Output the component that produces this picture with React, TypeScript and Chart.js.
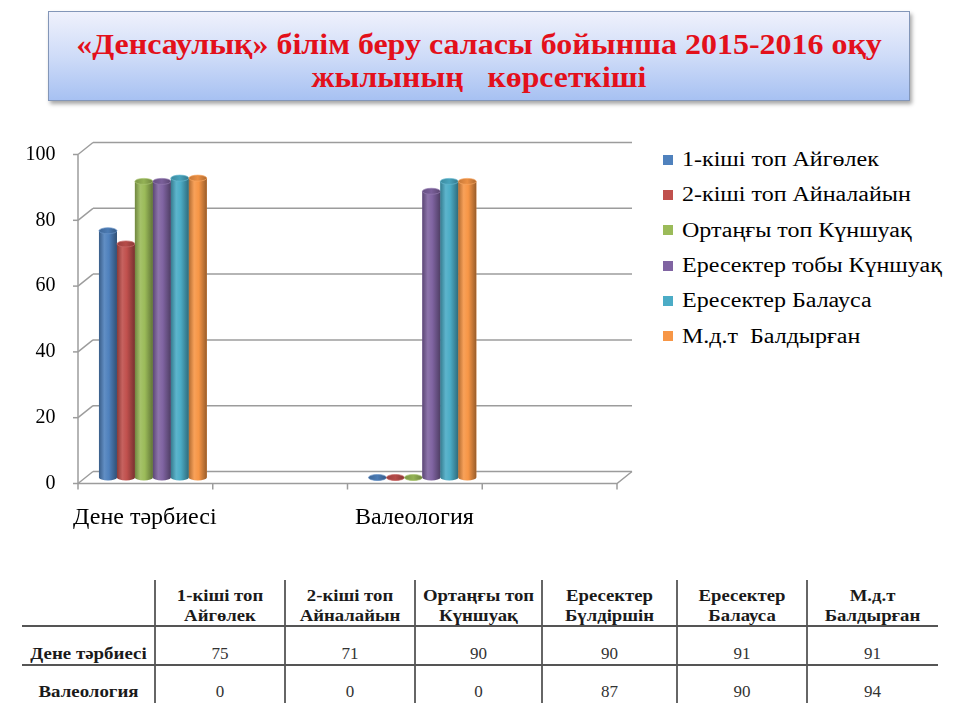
import React, { useEffect, useRef } from "react";
import { Chart, registerables } from "chart.js";

Chart.register(...registerables);

// ---------- data ----------
const categories = ["Дене тәрбиесі", "", "Валеология", ""];
const seriesNames = [
  "1-кіші топ Айгөлек",
  "2-кіші топ Айналайын",
  "Ортаңғы топ Күншуақ",
  "Ересектер тобы Күншуақ",
  "Ересектер Балауса",
  "М.д.т  Балдырған",
];
const series1 = [75, null, 0, null];
const series2 = [71, null, 0, null];
const series3 = [90, null, 0, null];
const series4 = [90, null, 87, null];
const series5 = [91, null, 90, null];
const series6 = [91, null, 90, null];
const seriesValues = [series1, series2, series3, series4, series5, series6];
const seriesColors = ["#4F81BD", "#C0504D", "#9BBB59", "#8064A2", "#4BACC6", "#F79646"];
const yMin = 0;
const yMax = 100;
const yStep = 20;

const titleLine1 = "«Денсаулық» білім беру саласы бойынша 2015-2016 оқу";
const titleLine2 = "жылының   көрсеткіші";

const tableHeaders = [
  ["1-кіші топ", "Айгөлек"],
  ["2-кіші топ", "Айналайын"],
  ["Ортаңғы топ", "Күншуақ"],
  ["Ересектер", "Бүлдіршін"],
  ["Ересектер", "Балауса"],
  ["М.д.т", "Балдырған"],
];
const tableRowLabels = ["Дене тәрбиесі", "Валеология"];
const tableRow1 = [75, 71, 90, 90, 91, 91];
const tableRow2 = [0, 0, 0, 87, 90, 94];
const tableRows = [tableRow1, tableRow2];

// ---------- helpers ----------
const SERIF = "'Liberation Serif', 'Times New Roman', serif";

function shade(hex: string, f: number) {
  const n = parseInt(hex.slice(1), 16);
  let r = (n >> 16) & 255,
    g = (n >> 8) & 255,
    b = n & 255;
  if (f <= 1) {
    r *= f;
    g *= f;
    b *= f;
  } else {
    const t = f - 1;
    r = r + (255 - r) * t;
    g = g + (255 - g) * t;
    b = b + (255 - b) * t;
  }
  return `rgb(${Math.round(r)},${Math.round(g)},${Math.round(b)})`;
}

const DX = 7.5; // half depth (x)
const DY = 6; // half depth (y)

const wallsPlugin = {
  id: "walls3d",
  beforeDatasetsDraw(chart: any) {
    const { ctx, chartArea } = chart;
    const ys = chart.scales.y;
    const L = chartArea.left;
    const R = chartArea.right;
    ctx.save();
    ctx.strokeStyle = "#9c9c9c";
    ctx.lineWidth = 1.5;
    for (let v = yMin; v <= yMax; v += yStep) {
      const y = ys.getPixelForValue(v);
      ctx.beginPath();
      ctx.moveTo(L + DX, y - DY);
      ctx.lineTo(R + DX, y - DY);
      ctx.stroke();
      ctx.beginPath();
      ctx.moveTo(L - DX, y + DY);
      ctx.lineTo(L + DX, y - DY);
      ctx.stroke();
      ctx.beginPath();
      ctx.moveTo(L - DX - 5, y + DY);
      ctx.lineTo(L - DX, y + DY);
      ctx.stroke();
    }
    const y0 = ys.getPixelForValue(yMin);
    const y1 = ys.getPixelForValue(yMax);
    ctx.beginPath();
    ctx.moveTo(L - DX, y1 + DY);
    ctx.lineTo(L - DX, y0 + DY);
    ctx.stroke();
    ctx.beginPath();
    ctx.moveTo(L - DX, y0 + DY);
    ctx.lineTo(R - DX, y0 + DY);
    ctx.lineTo(R + DX, y0 - DY);
    ctx.stroke();
    const n = categories.length;
    for (let i = 0; i <= n; i++) {
      const xb = L + ((R - L) * i) / n;
      ctx.beginPath();
      ctx.moveTo(xb - DX, y0 + DY);
      ctx.lineTo(xb - DX, y0 + DY + 6);
      ctx.stroke();
    }
    ctx.restore();
  },
};

const cylinderPlugin = {
  id: "cylinders",
  afterDatasetsDraw(chart: any) {
    const ctx = chart.ctx;
    chart.data.datasets.forEach((ds: any, di: number) => {
      const meta = chart.getDatasetMeta(di);
      if (meta.hidden) return;
      const color = seriesColors[di];
      meta.data.forEach((el: any, i: number) => {
        const raw = ds.data[i];
        if (raw === null || raw === undefined) return;
        const { x, y, base, width } = el.getProps(["x", "y", "base", "width"], true);
        const rx = width / 2;
        const ry = 3;
        ctx.save();
        const g = ctx.createLinearGradient(x - rx, 0, x + rx, 0);
        g.addColorStop(0, shade(color, 0.72));
        g.addColorStop(0.3, shade(color, 1.1));
        g.addColorStop(0.55, color);
        g.addColorStop(1, shade(color, 0.62));
        ctx.beginPath();
        ctx.moveTo(x - rx, y);
        ctx.lineTo(x - rx, base);
        ctx.ellipse(x, base, rx, ry, 0, Math.PI, 0, true);
        ctx.lineTo(x + rx, y);
        ctx.closePath();
        ctx.fillStyle = g;
        ctx.fill();
        const tg = ctx.createLinearGradient(x - rx, 0, x + rx, 0);
        tg.addColorStop(0, shade(color, 0.8));
        tg.addColorStop(0.5, shade(color, 0.95));
        tg.addColorStop(1, shade(color, 0.7));
        ctx.beginPath();
        ctx.ellipse(x, y, rx, ry, 0, 0, Math.PI * 2);
        ctx.fillStyle = tg;
        ctx.fill();
        ctx.lineWidth = 0.7;
        ctx.strokeStyle = shade(color, 1.15);
        ctx.stroke();
        ctx.restore();
      });
    });
  },
};

function BarChart() {
  const ref = useRef<HTMLCanvasElement | null>(null);
  useEffect(() => {
    if (!ref.current) return;
    const chart = new Chart(ref.current, {
      type: "bar",
      data: {
        labels: categories,
        datasets: seriesNames.map((name, i) => ({
          label: name,
          data: seriesValues[i],
          backgroundColor: seriesColors[i],
          borderWidth: 0,
          categoryPercentage: 0.8,
          barPercentage: 1,
        })),
      },
      options: {
        responsive: false,
        animation: false,
        devicePixelRatio: 1,
        layout: { padding: { left: 0, top: 28.5, right: 25.5, bottom: 0 } },
        plugins: {
          legend: { display: false },
          tooltip: { enabled: false },
          title: { display: false },
        },
        scales: {
          y: {
            min: yMin,
            max: yMax,
            grid: { display: false, drawTicks: false },
            border: { display: false },
            ticks: {
              stepSize: yStep,
              padding: 30,
              labelOffset: 6,
              color: "#000",
              font: { family: SERIF, size: 20 },
            },
            afterFit: (s: any) => {
              s.width = 85.5;
              s.paddingTop = 0;
              s.paddingBottom = 0;
            },
          },
          x: {
            grid: { display: false, drawTicks: false },
            border: { display: false },
            ticks: {
              padding: 26,
              labelOffset: -8,
              maxRotation: 0,
              autoSkip: false,
              color: "#000",
              font: { family: SERIF, size: 24 },
            },
            afterFit: (s: any) => {
              s.height = 62.5;
              s.paddingLeft = 0;
              s.paddingRight = 0;
            },
          },
        },
      },
      plugins: [wallsPlugin, cylinderPlugin],
    });
    return () => chart.destroy();
  }, []);
  return (
    <canvas
      ref={ref}
      width={650}
      height={420}
      style={{ position: "absolute", left: 0, top: 120, width: 650, height: 420 }}
    />
  );
}

const colEdges = [22, 155, 285, 415, 542, 677, 807, 938];

export default function App() {
  return (
    <div
      style={{
        position: "absolute",
        left: 0,
        top: 0,
        width: 960,
        height: 720,
        background: "#fff",
        overflow: "hidden",
        fontFamily: SERIF,
      }}
    >
      {/* title box */}
      <div
        style={{
          position: "absolute",
          left: 48,
          top: 11,
          width: 862,
          height: 90,
          background: "linear-gradient(to bottom, #eff1fc 0%, #cfdcf8 50%, #a7c1f2 100%)",
          border: "1px solid #8396b8",
          boxShadow: "2px 3px 4px rgba(0,0,0,0.35)",
          textAlign: "center",
          color: "#e3101b",
          fontWeight: "bold",
          fontSize: 30,
          lineHeight: "33px",
          paddingTop: 15,
          boxSizing: "border-box",
          whiteSpace: "pre",
        }}
      >
        <div style={{ transform: "scaleX(1.065)" }}>{titleLine1}</div>
        <div style={{ transform: "scaleX(1.06)" }}>{titleLine2}</div>
      </div>

      <BarChart />

      {/* legend */}
      <div style={{ position: "absolute", left: 663, top: 142 }}>
        {seriesNames.map((name, i) => (
          <div
            key={i}
            style={{ height: 35.3, display: "flex", alignItems: "center", whiteSpace: "pre" }}
          >
            <div style={{ width: 10, height: 10, background: seriesColors[i], marginRight: 9, flex: "none" }} />
            <span
              style={{
                fontSize: 20,
                color: "#000",
                display: "inline-block",
                transform: "scaleX(1.2)",
                transformOrigin: "left center",
              }}
            >
              {name}
            </span>
          </div>
        ))}
      </div>

      {/* table */}
      {colEdges.slice(1, 7).map((x, i) => (
        <div
          key={"v" + i}
          style={{ position: "absolute", left: x - 1, top: 580, width: 2, height: 123, background: "#666" }}
        />
      ))}
      {[626, 665].map((y, i) => (
        <div
          key={"h" + i}
          style={{ position: "absolute", left: 22, top: y - 1, width: 916, height: 2, background: "#555" }}
        />
      ))}
      {tableHeaders.map((h, i) => (
        <div
          key={"th" + i}
          style={{
            position: "absolute",
            left: colEdges[i + 1],
            width: colEdges[i + 2] - colEdges[i + 1],
            top: 586,
            textAlign: "center",
            fontWeight: "bold",
            fontSize: 16,
            lineHeight: "20px",
            color: "#1a1a1a",
            transform: "scaleX(1.17)",
          }}
        >
          <div>{h[0]}</div>
          <div>{h[1]}</div>
        </div>
      ))}
      {tableRowLabels.map((lab, r) => (
        <React.Fragment key={"r" + r}>
          <div
            style={{
              position: "absolute",
              left: colEdges[0],
              width: colEdges[1] - colEdges[0],
              top: [643, 681][r],
              textAlign: "center",
              fontWeight: "bold",
              fontSize: 16,
              lineHeight: "21px",
              color: "#1a1a1a",
              transform: "scaleX(1.18)",
            }}
          >
            {lab}
          </div>
          {tableRows[r].map((v, c) => (
            <div
              key={c}
              style={{
                position: "absolute",
                left: colEdges[c + 1],
                width: colEdges[c + 2] - colEdges[c + 1],
                top: [643, 681][r],
                textAlign: "center",
                fontSize: 17,
                lineHeight: "21px",
                color: "#333",
              }}
            >
              {v}
            </div>
          ))}
        </React.Fragment>
      ))}
    </div>
  );
}
